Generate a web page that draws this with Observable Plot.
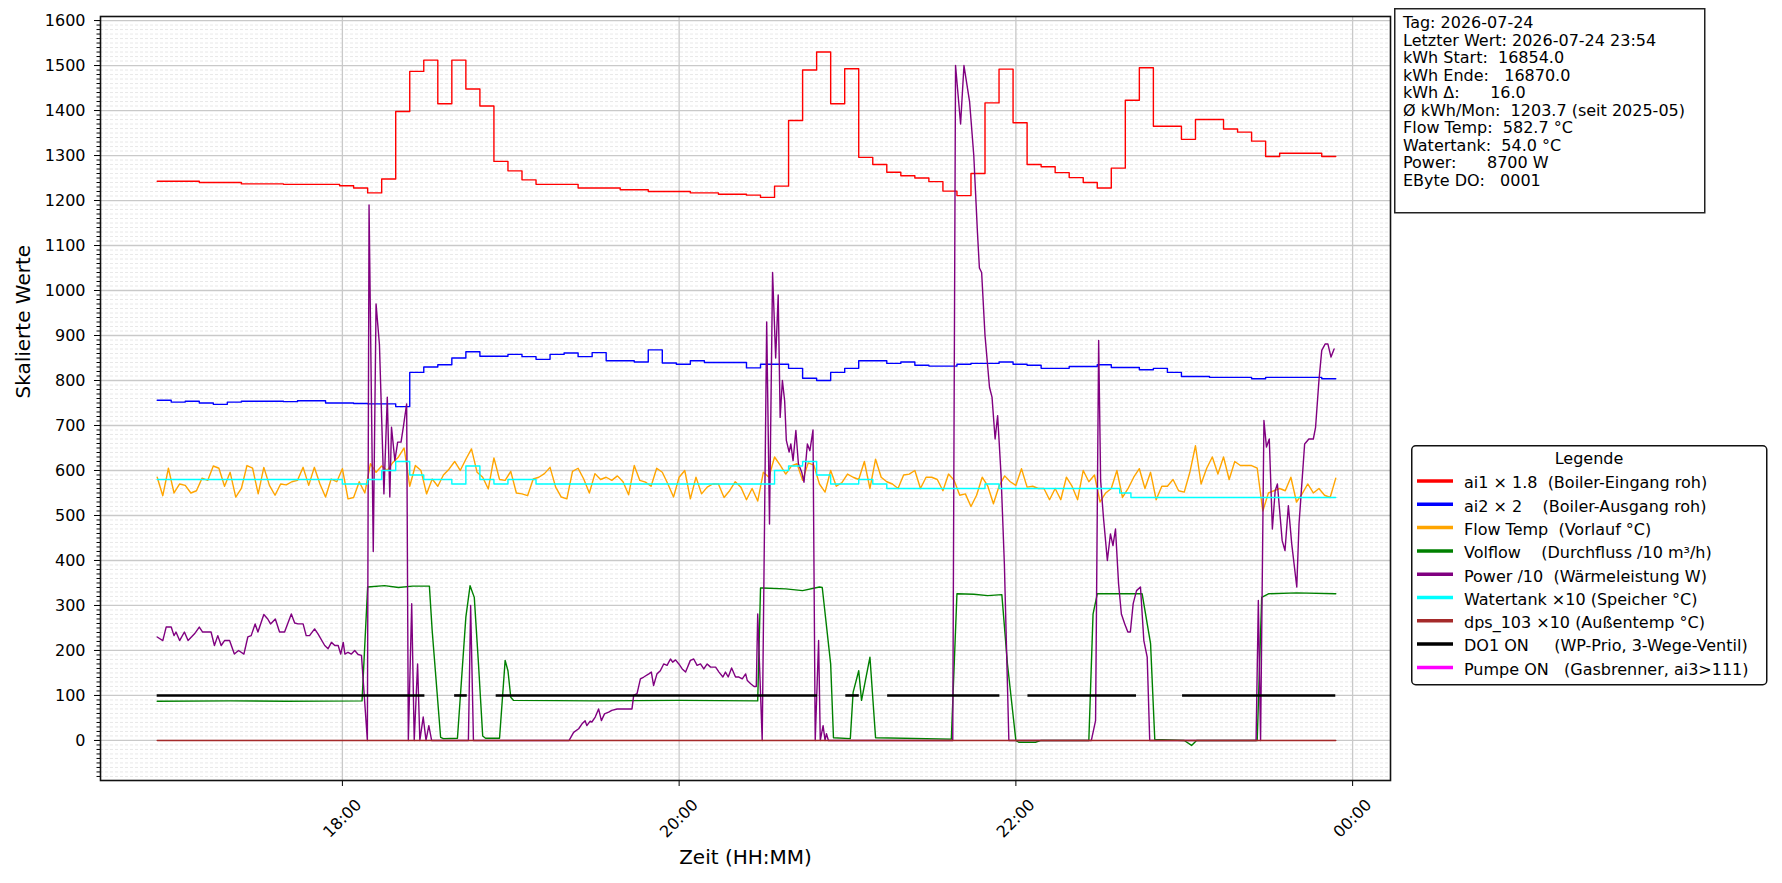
<!DOCTYPE html>
<html><head><meta charset="utf-8">
<script src="https://cdn.jsdelivr.net/npm/d3@7"></script>
<script src="https://cdn.jsdelivr.net/npm/@observablehq/plot@0.6"></script>
<style>
body{margin:0;background:#fff;font-family:"DejaVu Sans",sans-serif;}
#wrap{position:relative;width:1782px;height:883px;}
#wrap svg{display:block;}
#overlay{position:absolute;left:0;top:0;pointer-events:none;}
</style></head>
<body><div id="wrap"></div>
<script>
// ---- data (minute of day, value) ----
const ai1 = [[1014,1243],[1029,1240],[1044,1237],[1059,1236],[1079,1233],[1084,1228],[1089,1217],[1094,1248],[1099,1398],[1104,1487],[1109,1512],[1114,1415],[1119,1512],[1124,1448],[1129,1410],[1134,1287],[1139,1266],[1144,1246],[1149,1236],[1164,1228],[1179,1224],[1189,1220],[1204,1217],[1214,1214],[1224,1212],[1229,1207],[1234,1232],[1239,1378],[1244,1490],[1249,1530],[1254,1415],[1259,1493],[1264,1296],[1269,1280],[1274,1263],[1279,1255],[1284,1250],[1289,1242],[1294,1221],[1299,1211],[1304,1260],[1309,1417],[1314,1492],[1319,1373],[1324,1280],[1329,1275],[1334,1262],[1339,1251],[1344,1240],[1349,1228],[1354,1272],[1359,1423],[1364,1495],[1369,1365],[1379,1336],[1384,1380],[1394,1359],[1399,1352],[1404,1332],[1409,1298],[1414,1305],[1429,1298],[1434,1298]];
const ai2 = [[1014,756],[1019,752],[1024,754],[1029,750],[1034,747],[1039,752],[1044,754],[1059,753],[1064,755],[1074,750],[1084,749],[1089,748],[1099,742],[1104,818],[1109,830],[1114,835],[1119,850],[1124,864],[1129,854],[1139,858],[1144,853],[1149,847],[1154,858],[1159,861],[1164,853],[1169,862],[1174,844],[1184,841],[1189,868],[1194,839],[1199,836],[1204,844],[1209,840],[1224,828],[1229,836],[1239,827],[1244,805],[1249,800],[1254,818],[1259,827],[1264,844],[1274,838],[1279,841],[1284,834],[1289,832],[1299,836],[1304,838],[1314,841],[1319,836],[1324,834],[1329,827],[1339,831],[1349,835],[1354,829],[1364,824],[1369,827],[1374,818],[1379,809],[1389,807],[1404,804],[1409,807],[1429,804],[1434,804]];
const flowStart = 1014, flowStep = 2;
const flowTemp = [585,544,605,550,570,567,550,555,583,578,610,605,565,596,541,560,611,605,548,607,567,545,570,568,575,578,607,567,607,570,541,581,575,604,537,540,575,550,615,596,610,600,618,630,650,565,611,600,548,581,565,590,603,620,600,625,648,596,585,559,628,580,578,598,550,548,544,581,585,593,607,563,541,537,598,605,581,550,593,580,585,578,588,575,546,611,578,574,565,605,596,570,541,585,600,537,585,548,563,570,570,540,555,575,563,535,560,532,596,585,630,612,592,610,615,578,617,612,570,552,600,565,573,592,585,580,620,560,625,585,575,570,560,590,592,600,560,585,585,580,555,592,578,545,548,520,545,585,565,526,565,588,575,567,604,563,565,560,560,535,560,535,585,565,535,600,575,590,530,550,560,600,540,560,585,604,560,596,535,565,565,580,555,552,596,655,570,605,630,592,630,580,620,611,611,611,605,510,550,555,560,555,585,530,548,570,550,560,545,540,583];
const volflow = [[1014,87],[1040,88],[1060,87],[1087,88],[1089,341],[1095,344],[1100,340],[1105,343],[1111,343],[1112,244],[1115,7],[1116,4],[1121,5],[1124,274],[1125.5,344],[1127,318],[1128.5,170],[1130,10],[1131,5],[1136,5],[1138,178],[1139,155],[1140,96],[1141,89],[1170,88],[1200,89],[1228,88],[1229,339],[1238,337],[1244,333],[1250,341],[1251,340],[1254,170],[1255,6],[1261,4],[1262,107],[1264,155],[1265,89],[1268,185],[1270,6],[1297,3],[1299,326],[1305,325],[1310,322],[1315,324],[1317,170],[1320,0],[1321,-4],[1327,-4],[1329,0],[1346,0],[1347.5,281],[1349,326],[1365,326],[1368,215],[1369.5,2],[1380,0],[1382.6,-11],[1384.4,0],[1406,0],[1407.6,318],[1410,326],[1420,328],[1434,326]];
const power = [[1014,230],[1016,222],[1017.2,252],[1019,252],[1020,233],[1020.7,241],[1022,222],[1023.7,241],[1025,222],[1027.3,237],[1029,252],[1030.2,241],[1033.2,241],[1034.4,211],[1035.6,233],[1036.8,211],[1038,222],[1039.8,222],[1041.5,192],[1043,200],[1044.9,192],[1046.3,230],[1047.5,233],[1048.9,259],[1049.9,241],[1052,280],[1053.4,270],[1054.4,259],[1056.1,270],[1057.6,241],[1059.4,241],[1061.8,281],[1063,261],[1064.2,259],[1066,259],[1067.1,233],[1068.3,233],[1070.1,248],[1071.3,237],[1073.7,211],[1074.9,204],[1076.1,218],[1077.3,211],[1078.5,211],[1079.4,192],[1080.3,218],[1080.9,192],[1082,196],[1083.2,192],[1084.4,200],[1085.6,191],[1086.8,189],[1088.9,0],[1089.5,1190],[1091,420],[1092,970],[1093.2,880],[1094.8,548],[1096,763],[1096.9,541],[1097.5,696],[1098.7,622],[1099.7,663],[1100.9,663],[1101.7,696],[1102.9,748],[1103.5,0],[1104.7,304],[1105.6,0],[1106.8,170],[1107.6,0],[1108.8,52],[1109.8,0],[1110.8,33],[1111.8,0],[1124.9,0],[1125.7,300],[1126.7,0],[1160.8,0],[1162.4,18],[1164.2,26],[1165.4,37],[1166.5,44],[1167.1,33],[1168.3,43],[1168.9,41],[1170.1,52],[1171.3,70],[1172.3,44],[1173.4,59],[1174.9,63],[1176,67],[1177.9,70],[1183.2,70],[1183.8,100],[1185,104],[1186.2,137],[1187.4,141],[1189.2,148],[1190.1,152],[1190.9,122],[1192.1,148],[1193.3,155],[1194.5,170],[1195.7,167],[1196.9,181],[1197.7,174],[1198.7,179],[1199.9,170],[1201.1,159],[1202.3,152],[1204,178],[1205.2,181],[1206.4,167],[1207.6,170],[1208.8,159],[1210,170],[1211.2,163],[1213,163],[1214.2,152],[1215.6,141],[1216.5,152],[1217.5,141],[1218.7,161],[1220.1,141],[1221.3,141],[1222.5,137],[1223.7,148],[1224.3,133],[1225.5,126],[1226.7,120],[1227.5,120],[1228,281],[1229.6,0],[1231.2,930],[1232.2,481],[1233.3,1040],[1234.4,850],[1235.3,990],[1236,718],[1236.8,800],[1237.6,755],[1238.2,667],[1239.2,641],[1239.8,659],[1240.6,622],[1241.6,689],[1242.5,615],[1243.7,596],[1244.5,574],[1245.7,659],[1246.6,644],[1247.7,690],[1248.5,0],[1249.7,222],[1250.3,0],[1251.3,33],[1252,0],[1252.5,15],[1253.2,0],[1297.5,0],[1298.5,1500],[1300.3,1370],[1301.5,1500],[1303.5,1420],[1305,1300],[1306.3,1130],[1307,1050],[1307.8,1040],[1309,900],[1310.6,785],[1311.5,763],[1312.6,670],[1313.5,722],[1314.7,592],[1315.9,392],[1317.5,0],[1346.9,0],[1348.4,44],[1349.5,889],[1350.2,578],[1351.2,496],[1352.6,400],[1353.7,459],[1354.6,433],[1355.5,470],[1356.6,348],[1357.6,281],[1358.8,259],[1359.9,241],[1360.8,241],[1361.8,304],[1363,333],[1364.4,341],[1365.6,222],[1366.8,185],[1367.7,0],[1405.6,0],[1406.4,311],[1407.2,0],[1408.4,711],[1409.3,652],[1410.3,670],[1411.4,470],[1412.4,555],[1413.2,570],[1414.9,444],[1415.9,422],[1417.1,522],[1418.3,437],[1420.1,341],[1420.9,481],[1422.9,659],[1424.4,670],[1426,670],[1426.8,696],[1428,800],[1429,867],[1430.2,881],[1431.2,881],[1432.3,852],[1433.4,870]];
const watertank = [[1014,580],[1080,570],[1089,580],[1094,600],[1099,620],[1104,590],[1109,580],[1119,570],[1124,610],[1129,580],[1134,570],[1139,580],[1149,570],[1234,600],[1239,610],[1244,620],[1249,590],[1254,570],[1264,580],[1269,570],[1274,560],[1309,570],[1314,560],[1357,550],[1361,540],[1434,540]];
const dps103 = [[1014,0],[1434,0]];
const do1Level = 100;
const do1On = [[1014,1109.4],[1120,1124.5],[1134.8,1249.3],[1259.4,1264.2],[1274.3,1314.3],[1324.3,1363],[1379.4,1434]];
const pumpeOn = [];
const xTickMinutes = [1080,1200,1320,1440];
const xTickLabels = ["18:00","20:00","22:00","00:00"];
const yMajor = d3.range(0,1601,100);
const yMinor = d3.range(-80,1601,10);
const seriesNames = ["ai1 × 1.8  (Boiler-Eingang roh)","ai2 × 2    (Boiler-Ausgang roh)","Flow Temp  (Vorlauf °C)","Volflow    (Durchfluss /10 m³/h)","Power /10  (Wärmeleistung W)","Watertank ×10 (Speicher °C)","dps_103 ×10 (Außentemp °C)","DO1 ON     (WP-Prio, 3-Wege-Ventil)","Pumpe ON   (Gasbrenner, ai3>111)"];
const seriesColors = ["red","blue","orange","green","purple","cyan","brown","black","magenta"];
const infoLines = ["Tag: 2026-07-24","Letzter Wert: 2026-07-24 23:54","kWh Start:  16854.0","kWh Ende:   16870.0","kWh Δ:      16.0","Ø kWh/Mon:  1203.7 (seit 2025-05)","Flow Temp:  582.7 °C","Watertank:  54.0 °C","Power:      8700 W","EByte DO:   0001"];

// ---- helpers ----
const day0 = Date.UTC(2026,6,24);
const T = m => new Date(day0 + m*60000);
const pts = arr => arr.map(([m,v]) => ({t:T(m), v}));
const flowPts = flowTemp.map((v,i) => ({t:T(flowStart + i*flowStep), v}));
const lineOpts = (c, extra={}) => ({x:"t", y:"v", stroke:c, strokeWidth:1.4, ...extra});

const chart = Plot.plot({
  width:1782, height:883,
  marginLeft:100, marginRight:392, marginTop:16, marginBottom:103,
  style:{fontFamily:"DejaVu Sans", fontSize:"16px", color:"black", background:"white"},
  x:{type:"utc", domain:[T(993.8), T(1453.5)]},
  y:{domain:[-89,1609]},
  marks:[
    Plot.ruleY(yMinor, {y:d=>d, stroke:"#e2e2e2", strokeWidth:0.8, strokeDasharray:"3,2"}),
    Plot.ruleY(yMajor, {y:d=>d, stroke:"#c9c9c9", strokeWidth:1.3}),
    Plot.ruleX(xTickMinutes, {x:d=>T(d), stroke:"#c9c9c9", strokeWidth:1.3}),
    Plot.line(pts(ai1), lineOpts(seriesColors[0], {curve:"step-after"})),
    Plot.line(pts(ai2), lineOpts(seriesColors[1], {curve:"step-after"})),
    Plot.line(flowPts, lineOpts(seriesColors[2])),
    Plot.line(pts(volflow), lineOpts(seriesColors[3])),
    Plot.line(pts(power), lineOpts(seriesColors[4])),
    Plot.line(pts(watertank), lineOpts(seriesColors[5], {curve:"step-after"})),
    Plot.line(pts(dps103), lineOpts(seriesColors[6])),
    Plot.ruleY(do1On, {x1:d=>T(d[0]), x2:d=>T(d[1]), y:()=>do1Level, stroke:seriesColors[7], strokeWidth:2.6}),
    Plot.ruleY(pumpeOn, {x1:d=>T(d[0]), x2:d=>T(d[1]), y:()=>do1Level, stroke:seriesColors[8], strokeWidth:2.6}),
    Plot.axisY(yMinor, {tickSize:3.5, tickFormat:()=>"", label:null}),
    Plot.axisY(yMajor, {tickSize:6, tickPadding:9, fontSize:16, tickFormat:d=>String(d), label:null}),
    Plot.axisX(xTickMinutes.map(T), {tickSize:6, tickFormat:()=>"", label:null}),
    Plot.text(xTickMinutes, {x:d=>T(d), text:(d,i)=>xTickLabels[i], frameAnchor:"bottom", dy:38, rotate:-45, fontSize:16, textAnchor:"middle", lineAnchor:"middle"}),
    Plot.text(["Skalierte Werte"], {frameAnchor:"left", dx:-77, rotate:-90, fontSize:20, lineAnchor:"middle"}),
    Plot.text(["Zeit (HH:MM)"], {frameAnchor:"bottom", dy:77, fontSize:20, lineAnchor:"middle"}),
    Plot.frame({stroke:"#111", strokeWidth:1.6})
  ]
});
const wrap = document.getElementById("wrap");
wrap.appendChild(chart);

// ---- overlay: info box + legend ----
const ov = d3.select(wrap).append("svg").attr("id","overlay")
  .attr("width",1782).attr("height",883)
  .style("font-family","DejaVu Sans").style("font-size","16px");
ov.append("rect").attr("x",1394.75).attr("y",8.75).attr("width",310).attr("height",204)
  .attr("fill","white").attr("stroke","#222").attr("stroke-width",1.5);
ov.selectAll("text.info").data(infoLines).join("text").attr("class","info")
  .attr("x",1403).attr("y",(d,i)=>28.3+17.5*i).style("white-space","pre").text(d=>d);

ov.append("rect").attr("x",1411.75).attr("y",445.75).attr("width",355).attr("height",239).attr("rx",4)
  .attr("fill","white").attr("stroke","#111").attr("stroke-width",1.5);
ov.append("text").attr("x",1589).attr("y",464).attr("text-anchor","middle").text("Legende");
const lg = ov.selectAll("g.lg").data(seriesNames).join("g").attr("class","lg");
lg.append("line").attr("x1",1417).attr("x2",1453)
  .attr("y1",(d,i)=>481+23.3*i).attr("y2",(d,i)=>481+23.3*i)
  .attr("stroke",(d,i)=>seriesColors[i]).attr("stroke-width",3.5);
lg.append("text").attr("x",1464).attr("y",(d,i)=>488.3+23.3*i).style("white-space","pre").text(d=>d);
</script>
</body></html>
